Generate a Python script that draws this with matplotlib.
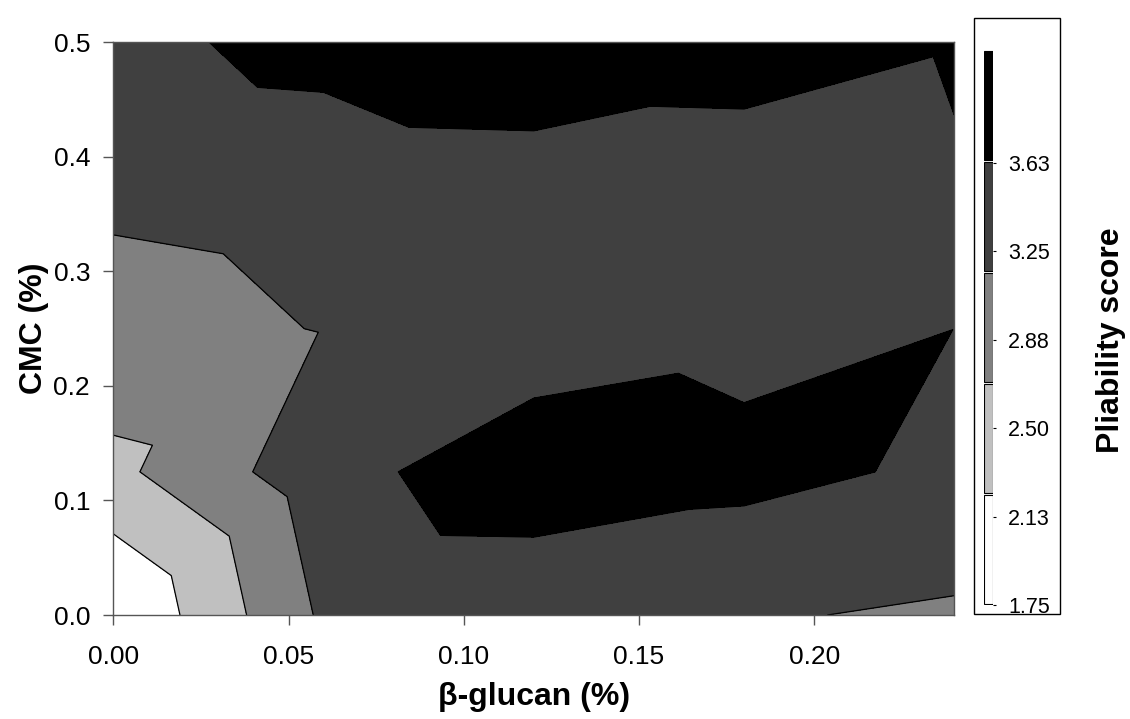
"""Contour map of pliability score vs beta-glucan and CMC content."""

import matplotlib

matplotlib.use("Agg")  # headless
import matplotlib.pyplot as plt
import matplotlib.tri as mtri
from matplotlib.patches import Rectangle
import numpy as np

plt.rcParams["font.family"] = ["Liberation Sans", "DejaVu Sans"]

# design grid (x = beta-glucan %, y = CMC %)
glucan = [0.0, 0.06, 0.12, 0.18, 0.24]
cmc = [0.0, 0.125, 0.25, 0.375, 0.5]

# pliability score at each grid node, one row per CMC level
score = [
    [1.750, 3.236, 3.255, 3.203, 3.102],
    [2.581, 3.459, 3.951, 3.768, 3.553],
    [3.015, 3.178, 3.335, 3.490, 3.633],
    [3.241, 3.298, 3.331, 3.354, 3.604],
    [3.483, 3.814, 4.124, 3.878, 3.665],
]

levels = [1.75, 2.221, 2.692, 3.163, 3.634, 4.105]
band_colors = ["white", "#c0c0c0", "#808080", "#404040", "black"]
cbar_ticks = [1.75, 2.125, 2.5, 2.875, 3.25, 3.625]
cbar_labels = ["1.75", "2.13", "2.50", "2.88", "3.25", "3.63"]


def _grid_triangles(nx: int, ny: int) -> list[list[int]]:
    """Split every grid cell along its lower-left to upper-right diagonal."""
    tris = []
    for j in range(ny - 1):
        for i in range(nx - 1):
            a = j * nx + i
            b = a + 1
            c = a + nx + 1
            d = a + nx
            tris.append([a, b, c])
            tris.append([a, c, d])
    return tris


gx, gy = np.meshgrid(glucan, cmc)
z = np.asarray(score, dtype=float).ravel()
tri = mtri.Triangulation(gx.ravel(), gy.ravel(), _grid_triangles(len(glucan), len(cmc)))

fig = plt.figure(figsize=(11.30, 7.19), dpi=100)
ax = fig.add_axes([0.1003, 0.1446, 0.7442, 0.7966])

ax.tricontourf(tri, z, levels=levels, colors=band_colors, extend="max")
ax.tricontour(tri, z, levels=levels[1:-1], colors="black", linewidths=0.9)

ax.set_xlim(0, 0.24)
ax.set_ylim(0, 0.5)
ax.set_xticks([0.0, 0.05, 0.10, 0.15, 0.20])
ax.set_xticklabels([f"{v:.2f}" for v in [0.0, 0.05, 0.10, 0.15, 0.20]])
ax.set_yticks([0.0, 0.1, 0.2, 0.3, 0.4, 0.5])
ax.set_yticklabels([f"{v:.1f}" for v in [0.0, 0.1, 0.2, 0.3, 0.4, 0.5]])
ax.tick_params(direction="out", length=7, width=1, color="#555555", labelsize=19)
ax.tick_params(axis="x", pad=14.5)
ax.tick_params(axis="y", pad=9.8)
for sp in ax.spines.values():
    sp.set_color("#555555")
    sp.set_linewidth(1)

ax.set_xlabel("\u03b2-glucan (%)", fontsize=23, fontweight="bold", labelpad=9.5)
ax.set_ylabel("CMC (%)", fontsize=23, fontweight="bold", labelpad=3)

# colour key: stacked bands inside a framed box
cax = fig.add_axes([0.8708, 0.1586, 0.0083, 0.7719])
step = levels[1] - levels[0]
gap = 0.01
for k, col in enumerate(band_colors):
    cax.bar(0, step - gap, bottom=levels[k] + gap / 2, width=1, color=col,
            edgecolor="black", linewidth=0.8, align="edge")
cax.set_xlim(0, 1)
cax.set_ylim(levels[0], levels[0] + step * len(band_colors))
cax.set_xticks([])
cax.yaxis.tick_right()
cax.set_yticks(cbar_ticks)
cax.set_yticklabels(cbar_labels)
cax.tick_params(axis="y", direction="out", length=2.5, width=0.8,
                labelsize=15.5, pad=8)
for sp in cax.spines.values():
    sp.set_visible(False)

fig.patches.append(Rectangle((0.862, 0.146), 0.0761, 0.8294, transform=fig.transFigure,
                             fill=False, edgecolor="black", linewidth=1))
fig.text(0.983, 0.527, "Pliability score", rotation=90, ha="center", va="center",
         fontsize=23, fontweight="bold")

fig.savefig("out.png", dpi=100)
plt.close(fig)
